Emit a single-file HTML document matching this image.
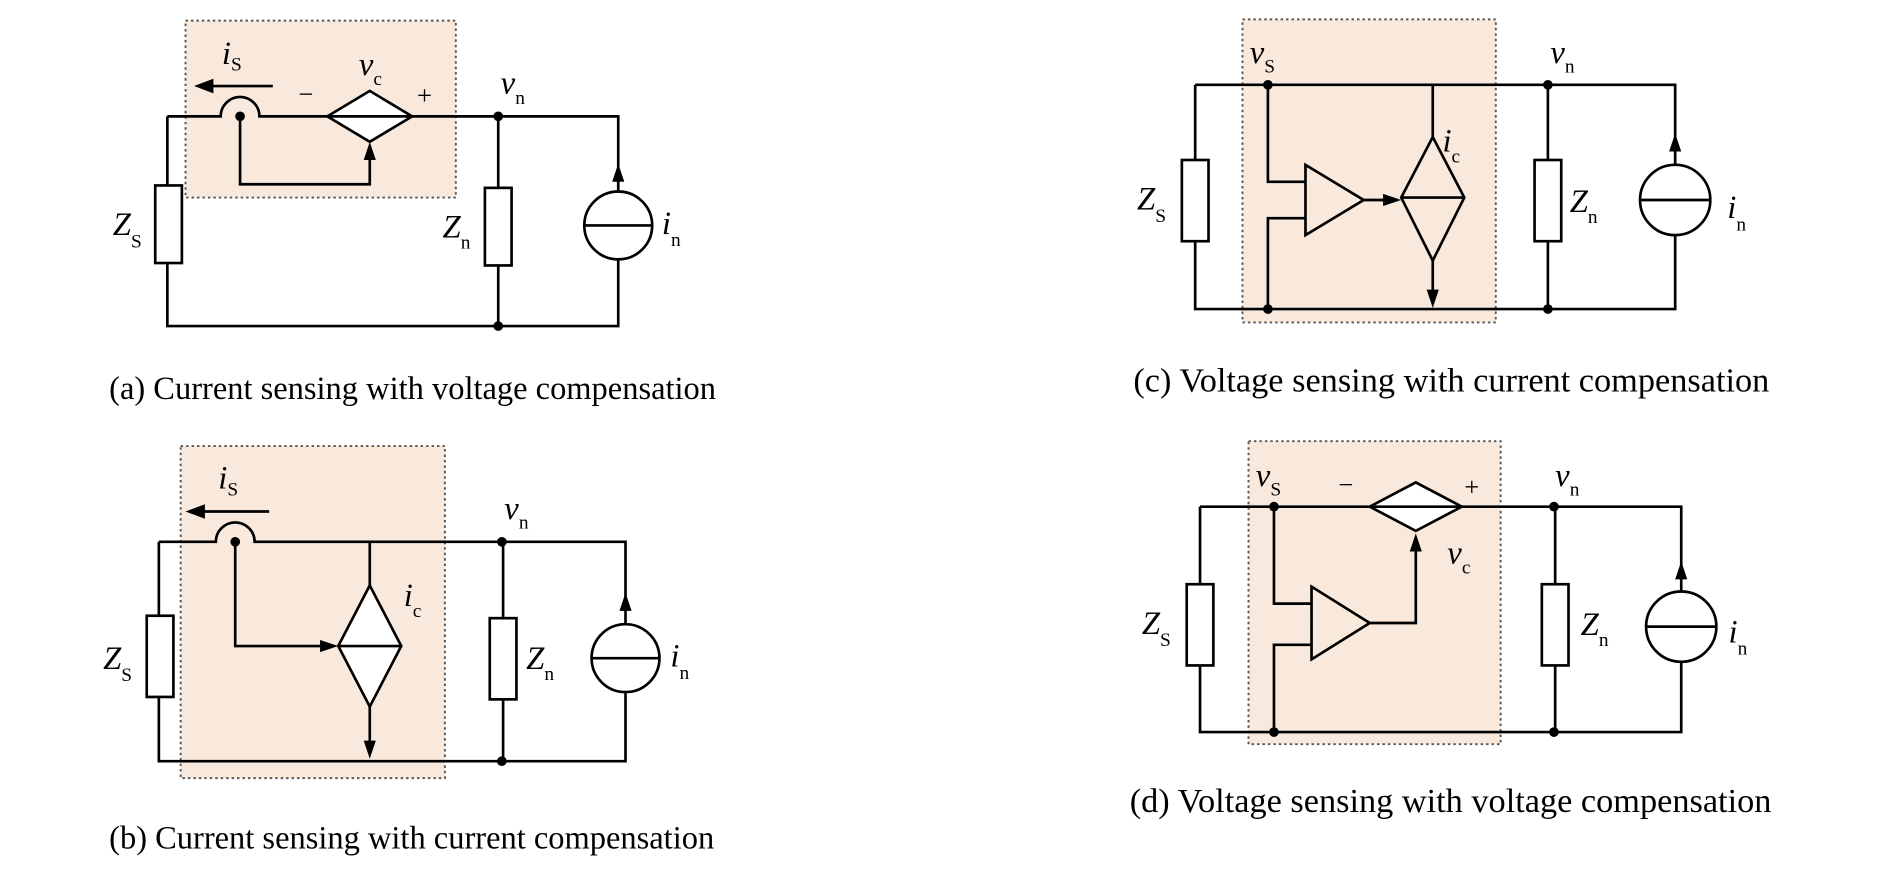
<!DOCTYPE html>
<html><head><meta charset="utf-8"><style>
html,body{margin:0;padding:0;background:#fff;}
svg{display:block}
text{font-family:"Liberation Serif",serif;fill:#000}
.v{font-style:italic;font-size:27px}
.s{font-size:16px;font-style:normal}
.cap{font-size:26.8px}
.cap2{font-size:28.3px}
.w{stroke:#000;stroke-width:2.2;fill:none}
.r{stroke:#000;stroke-width:2.2;fill:#fff}
.t{stroke:#000;stroke-width:2.2;fill:none}
.box{fill:#f8e9dc;stroke:#555;stroke-width:1.6;stroke-dasharray:2 2.5}
</style></head><body>
<svg width="1891" height="871" viewBox="0 0 1560 718.6" xmlns="http://www.w3.org/2000/svg">

<!-- ===== (a) ===== -->
<rect class="box" x="153" y="17" width="223" height="146"/>
<path class="w" d="M138 96 H182 A16 16 0 0 1 214 96 H510 V158 M510 214 V269 H138 V217 M138 153 V96"/>
<rect class="r" x="128" y="153" width="22" height="64"/>
<path class="w" d="M411 96 V155 M411 219 V269"/>
<rect class="r" x="400" y="155" width="22" height="64"/>
<circle class="r" cx="510" cy="186" r="28"/>
<line class="w" x1="482" y1="186" x2="538" y2="186"/>
<polygon points="510,135 505,150 515,150" fill="#000"/>
<circle cx="411" cy="96" r="4" fill="#000"/><circle cx="411" cy="269" r="4" fill="#000"/>
<circle cx="198" cy="96" r="4" fill="#000"/>
<path class="w" d="M198 96 V152 H305 V130"/>
<polygon points="305,117 300,132 310,132" fill="#000"/>
<polygon class="r" points="270,96 305,75 340,96 305,117"/>
<line class="w" x1="270" y1="96" x2="340" y2="96"/>
<line class="w" x1="225" y1="71" x2="172" y2="71"/><polygon points="160,71 176,65 176,77" fill="#000"/>
<text class="v" x="183" y="53">i<tspan class="s" dy="5">S</tspan></text>
<text x="246" y="85" font-size="22">−</text>
<text class="v" x="296" y="62">v<tspan class="s" dy="8">c</tspan></text>
<text x="344" y="86" font-size="22">+</text>
<text class="v" x="413" y="77">v<tspan class="s" dy="9">n</tspan></text>
<text class="v" x="93" y="194">Z<tspan class="s" dy="10">S</tspan></text>
<text class="v" x="365" y="196">Z<tspan class="s" dy="9">n</tspan></text>
<text class="v" x="546" y="193">i<tspan class="s" dy="10">n</tspan></text>
<text class="cap" x="90" y="329">(a) Current sensing with voltage compensation</text>

<!-- ===== (b) ===== -->
<rect class="box" x="149" y="368" width="218" height="274"/>
<path class="w" d="M131 447 H178 A16 16 0 0 1 210 447 H516 V514 M516 572 V628 H131 V575 M131 508 V447"/>
<rect class="r" x="121" y="508" width="22" height="67"/>
<path class="w" d="M415 447 V510 M415 577 V628"/>
<rect class="r" x="404" y="510" width="22" height="67"/>
<circle class="r" cx="516" cy="543" r="28"/>
<line class="w" x1="488" y1="543" x2="544" y2="543"/>
<polygon points="516,489 511,504 521,504" fill="#000"/>
<circle cx="414" cy="447" r="4" fill="#000"/><circle cx="414" cy="628" r="4" fill="#000"/>
<circle cx="194" cy="447" r="4" fill="#000"/>
<path class="w" d="M194 447 V533 H268"/>
<polygon points="279,533 264,528 264,538" fill="#000"/>
<path class="w" d="M305 447 V483 M305 583 V614"/>
<polygon points="305,626 300,611 310,611" fill="#000"/>
<polygon class="r" points="305,483 331,533 305,583 279,533"/>
<line class="w" x1="279" y1="533" x2="331" y2="533"/>
<line class="w" x1="222" y1="422" x2="165" y2="422"/><polygon points="153,422 169,416 169,428" fill="#000"/>
<text class="v" x="180" y="403">i<tspan class="s" dy="6">S</tspan></text>
<text class="v" x="333" y="500">i<tspan class="s" dy="9">c</tspan></text>
<text class="v" x="416" y="428">v<tspan class="s" dy="8">n</tspan></text>
<text class="v" x="85" y="552">Z<tspan class="s" dy="10">S</tspan></text>
<text class="v" x="434" y="552">Z<tspan class="s" dy="9">n</tspan></text>
<text class="v" x="553" y="550">i<tspan class="s" dy="10">n</tspan></text>
<text class="cap" x="90" y="700">(b) Current sensing with current compensation</text>

<g transform="translate(-5,0)">
<!-- ===== (c) ===== -->
<rect class="box" x="1030" y="16" width="209" height="250"/>
<path class="w" d="M991 70 H1387 V137 M1387 194 V255 H991 V199 M991 132 V70"/>
<rect class="r" x="980" y="132" width="22" height="67"/>
<path class="w" d="M1282 70 V132 M1282 199 V255"/>
<rect class="r" x="1271" y="132" width="22" height="67"/>
<circle class="r" cx="1387" cy="165" r="29"/>
<line class="w" x1="1358" y1="165" x2="1416" y2="165"/>
<polygon points="1387,110 1382,125 1392,125" fill="#000"/>
<circle cx="1051" cy="70" r="4" fill="#000"/><circle cx="1051" cy="255" r="4" fill="#000"/>
<circle cx="1282" cy="70" r="4" fill="#000"/><circle cx="1282" cy="255" r="4" fill="#000"/>
<path class="w" d="M1051 70 V150 H1082 M1051 255 V180 H1082"/>
<polygon class="t" points="1082,136 1082,194 1130,165"/>
<path class="w" d="M1130 165 H1150"/>
<polygon points="1161,165 1146,160 1146,170" fill="#000"/>
<path class="w" d="M1187 70 V113 M1187 215 V242"/>
<polygon points="1187,254 1182,239 1192,239" fill="#000"/>
<polygon class="t" points="1187,113 1213,163 1187,215 1161,163"/>
<line class="w" x1="1161" y1="163" x2="1213" y2="163"/>
<text class="v" x="1036" y="52">v<tspan class="s" dy="8">S</tspan></text>
<text class="v" x="1284" y="52">v<tspan class="s" dy="8">n</tspan></text>
<text class="v" x="1195" y="125">i<tspan class="s" dy="9">c</tspan></text>
<text class="v" x="943" y="173">Z<tspan class="s" dy="10">S</tspan></text>
<text class="v" x="1300" y="175">Z<tspan class="s" dy="9">n</tspan></text>
<text class="v" x="1430" y="180">i<tspan class="s" dy="10">n</tspan></text>
<text class="cap2" x="940" y="323">(c) Voltage sensing with current compensation</text>

<!-- ===== (d) ===== -->
<rect class="box" x="1035" y="364" width="208" height="250"/>
<path class="w" d="M995 418 H1392 V489 M1392 546 V604 H995 V549 M995 482 V418"/>
<rect class="r" x="984" y="482" width="22" height="67"/>
<path class="w" d="M1288 418 V482 M1288 549 V604"/>
<rect class="r" x="1277" y="482" width="22" height="67"/>
<circle class="r" cx="1392" cy="517" r="29"/>
<line class="w" x1="1363" y1="517" x2="1421" y2="517"/>
<polygon points="1392,463 1387,478 1397,478" fill="#000"/>
<circle cx="1056" cy="418" r="4" fill="#000"/><circle cx="1056" cy="604" r="4" fill="#000"/>
<circle cx="1287" cy="418" r="4" fill="#000"/><circle cx="1287" cy="604" r="4" fill="#000"/>
<path class="w" d="M1056 418 V498 H1087 M1056 604 V532 H1087"/>
<polygon class="t" points="1087,484 1087,544 1135,514"/>
<path class="w" d="M1135 514 H1173 V452"/>
<polygon points="1173,440 1168,455 1178,455" fill="#000"/>
<polygon class="r" points="1135,418 1173,398 1211,418 1173,438"/>
<line class="w" x1="1135" y1="418" x2="1211" y2="418"/>
<text x="1109" y="407" font-size="22">−</text>
<text x="1213" y="409" font-size="22">+</text>
<text class="v" x="1041" y="401">v<tspan class="s" dy="8">S</tspan></text>
<text class="v" x="1288" y="401">v<tspan class="s" dy="8">n</tspan></text>
<text class="v" x="1199" y="465">v<tspan class="s" dy="8">c</tspan></text>
<text class="v" x="947" y="523">Z<tspan class="s" dy="10">S</tspan></text>
<text class="v" x="1309" y="524">Z<tspan class="s" dy="9">n</tspan></text>
<text class="v" x="1431" y="530">i<tspan class="s" dy="10">n</tspan></text>
<text class="cap2" x="937" y="670">(d) Voltage sensing with voltage compensation</text>
</g>
</svg>
</body></html>
